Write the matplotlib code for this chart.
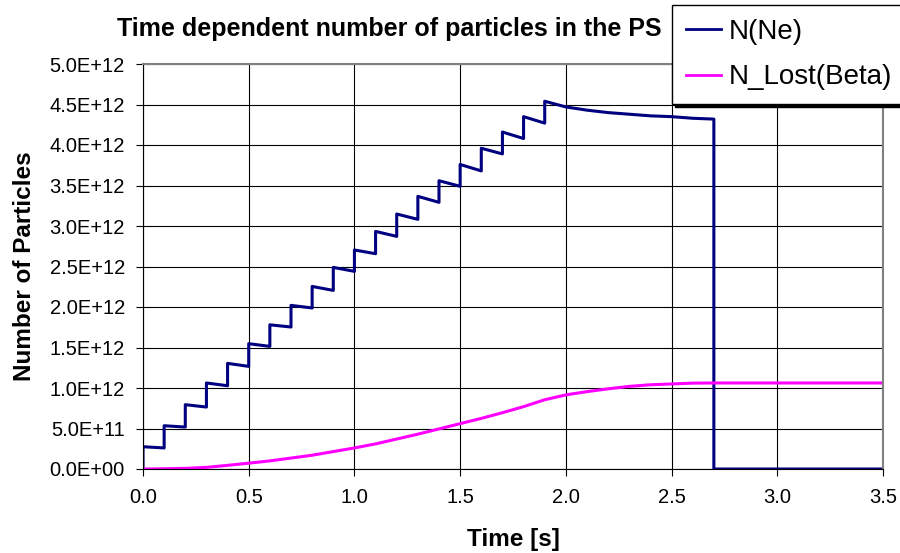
import matplotlib
matplotlib.use("Agg")
import matplotlib.pyplot as plt
import numpy as np

plt.rcParams['font.family'] = ['Liberation Sans', 'DejaVu Sans']

# injection times [s] and particle numbers (units of 1e12)
inj_t = [0.0, 0.1, 0.2, 0.3, 0.4, 0.5, 0.6, 0.7, 0.8, 0.9,
         1.0, 1.1, 1.2, 1.3, 1.4, 1.5, 1.6, 1.7, 1.8, 1.9]
# N right after each injection
after_inj = [0.275, 0.534, 0.794, 1.062, 1.304, 1.547, 1.78, 2.02, 2.254, 2.489,
             2.704, 2.933, 3.148, 3.366, 3.559, 3.76, 3.96, 4.16, 4.35, 4.54]
# N just before the next injection (t = 0.1 ... 1.9)
before_inj = [0.26, 0.518, 0.765, 1.028, 1.267, 1.514, 1.753, 1.988, 2.205, 2.44,
              2.658, 2.872, 3.082, 3.292, 3.49, 3.68, 3.89, 4.08, 4.27]
# decay after last injection, then extraction at 2.7 s
tail_t = [2.0, 2.1, 2.2, 2.3, 2.4, 2.5, 2.6, 2.7]
tail_n = [4.47, 4.43, 4.40, 4.38, 4.36, 4.35, 4.33, 4.32]
end_t = [2.7, 3.5]
end_n = [0.0, 0.0]

# lost particles (beta decay)
lost_t = [0.0, 0.1, 0.2, 0.3, 0.4, 0.5, 0.6, 0.7, 0.8, 0.9, 1.0, 1.1, 1.2,
          1.3, 1.4, 1.5, 1.6, 1.7, 1.8, 1.9, 2.0, 2.1, 2.2, 2.3, 2.4, 2.5,
          2.6, 2.7, 3.0, 3.5]
lost_n = [0.0, 0.003, 0.008, 0.02, 0.045, 0.072, 0.10, 0.135, 0.17, 0.215,
          0.26, 0.31, 0.37, 0.43, 0.495, 0.56, 0.625, 0.695, 0.77, 0.855,
          0.915, 0.955, 0.99, 1.02, 1.04, 1.05, 1.06, 1.062, 1.062, 1.062]

# build the staircase for N(Ne)
nt = [0.0]
nn = [0.0]
for i in range(len(inj_t)):
    nt.append(inj_t[i])
    nn.append(after_inj[i])
    if i < len(before_inj):
        nt.append(inj_t[i + 1])
        nn.append(before_inj[i])
nt += tail_t + end_t
nn += tail_n + end_n
nt = np.array(nt)
nn = np.array(nn) * 1e12

fig = plt.figure(figsize=(9, 5.53), dpi=100)
ax = fig.add_axes([143/900, 1 - 469/553, (883 - 143)/900, (469 - 64)/553])

ax.plot(nt, nn, color='#000080', lw=2.2, label='N(Ne)')
ax.plot(lost_t, np.array(lost_n) * 1e12, color='#FF00FF', lw=2.2, label='N_Lost(Beta)')

ax.set_xlim(0, 3.5)
ax.set_ylim(0, 5e12)
ax.set_xticks(np.arange(0, 3.51, 0.5))
ax.set_yticks(np.arange(0, 5.01e12, 0.5e12))
ax.set_xticklabels(['%.1f' % v for v in np.arange(0, 3.51, 0.5)])
ax.set_yticklabels(['%.1E' % v for v in np.arange(0, 5.01e12, 0.5e12)])
ax.grid(True, color='black', lw=0.8)
ax.set_axisbelow(True)
ax.tick_params(axis='both', direction='out', length=5, width=0.8, labelsize=14.5)
ax.tick_params(axis='y', pad=8)
ax.tick_params(axis='x', pad=9)
for s in ['top', 'right']:
    ax.spines[s].set_color('#808080')
    ax.spines[s].set_linewidth(1.5)
for s in ['left', 'bottom']:
    ax.spines[s].set_color('black')
    ax.spines[s].set_linewidth(0.8)

ax.set_xlabel('Time [s]', fontsize=17.5, fontweight='bold', labelpad=15)
ax.set_ylabel('Number of Particles', fontsize=17.5, fontweight='bold', labelpad=10)

fig.text(389/900, 1 - 29/553, 'Time dependent number of particles in the PS',
         fontsize=18, fontweight='bold', ha='center', va='center')

leg = fig.legend(loc='upper left', bbox_to_anchor=(672/900, 1 - 5/553),
                 fontsize=20, frameon=True, fancybox=False, edgecolor='black',
                 framealpha=1, borderaxespad=0, borderpad=0.5, handlelength=1.25,
                 handletextpad=0.28, labelspacing=0.7,
                 shadow={'color': 'black', 'alpha': 1})
leg.get_frame().set_linewidth(1.0)
for line in leg.get_lines():
    line.set_linewidth(2.0)

fig.savefig('out.png', dpi=100)
